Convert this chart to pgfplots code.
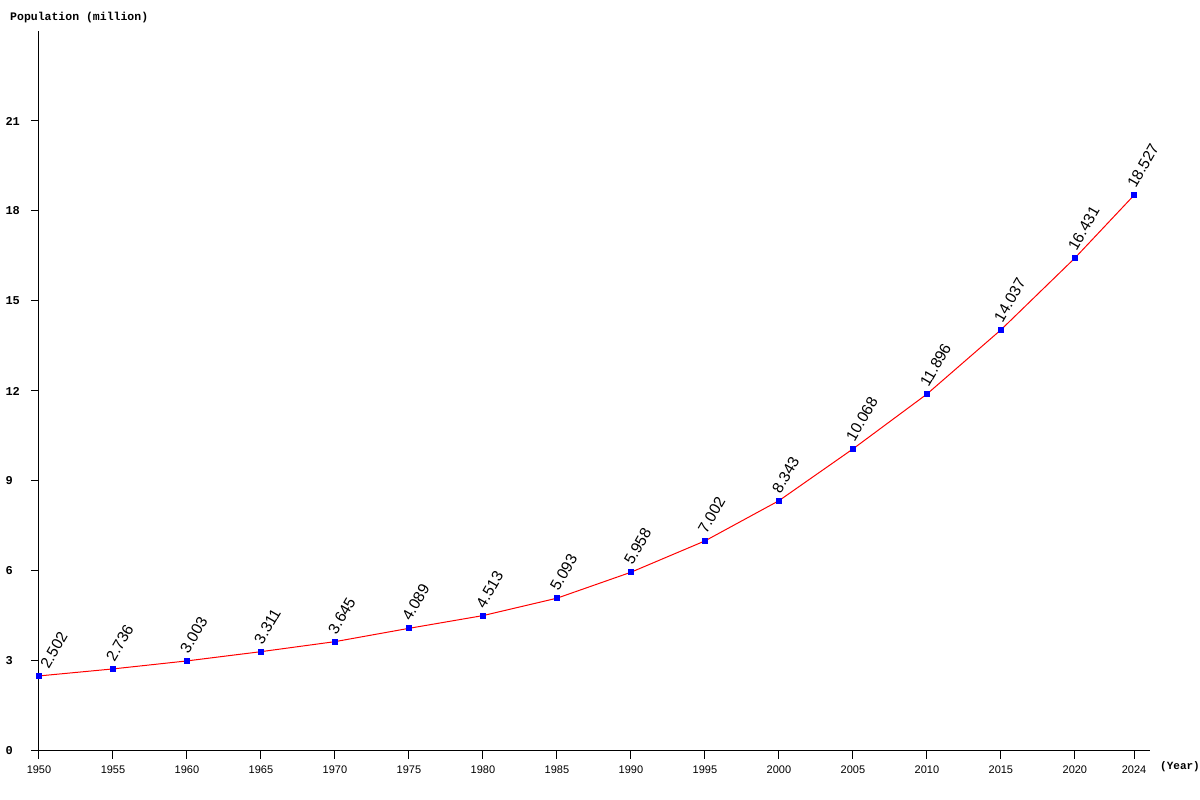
\documentclass[border=0pt]{standalone}
\usepackage{fontspec}
\setmainfont{Liberation Sans}
\setmonofont{Liberation Mono}
\usepackage{pgfplots}
\pgfplotsset{compat=1.18}
\definecolor{pred}{RGB}{255,0,0}
\definecolor{pblue}{RGB}{0,0,255}
\begin{document}
\begin{tikzpicture}[x=1pt,y=1pt]
\path[use as bounding box] (0,0) rectangle (1200,800);
\begin{axis}[
  at={(39pt,49pt)}, anchor=south west,
  scale only axis, width=1111pt, height=720pt,
  clip=false,
  xmin=1950, xmax=2025.08, ymin=0, ymax=24,
  axis lines=left,
  axis line style={-, line width=1pt, black},
  xtick={1950,1955,1960,1965,1970,1975,1980,1985,1990,1995,2000,2005,2010,2015,2020,2024},
  ytick={0,3,6,9,12,15,18,21},
  tick align=outside,
  major tick length=8pt,
  tick style={line width=1pt, black},
  /pgf/number format/1000 sep={},
  /pgf/number format/assume math mode=true,
  x tick label style={font=\fontsize{11}{12}\selectfont, yshift=-3pt},
  y tick label style={font=\ttfamily\bfseries\fontsize{12}{13}\selectfont, anchor=west, xshift=-29pt},
  nodes near coords style={xshift=-3pt, yshift=9pt, rotate=60, anchor=west, inner sep=0pt,
    font=\fontsize{15.5}{18}\selectfont, text=black},
]
% population line with point markers
\addplot [pred, line width=1pt, mark=square*, mark size=2.5pt,
  mark options={pblue, draw=pblue, fill=pblue}]
table {
x y
1950 2.502
1955 2.736
1960 3.003
1965 3.311
1970 3.645
1975 4.089
1980 4.513
1985 5.093
1990 5.958
1995 7.002
2000 8.343
2005 10.068
2010 11.896
2015 14.037
2020 16.431
2024 18.527
};
% value labels
\addplot [draw=none, point meta=explicit symbolic, nodes near coords={\pgfplotspointmeta}]
table [meta=label] {
x y label
1955 2.736 2.736
1960 3.003 3.003
1965 3.311 3.311
1970 3.645 3.645
1975 4.089 4.089
1980 4.513 4.513
1985 5.093 5.093
1990 5.958 5.958
1995 7.002 7.002
2000 8.343 8.343
2005 10.068 10.068
2010 11.896 11.896
2015 14.037 14.037
2020 16.431 16.431
2024 18.527 18.527
};
% first label sits clear of the y axis
\addplot [draw=none, point meta=explicit symbolic, nodes near coords={\pgfplotspointmeta},
  nodes near coords style={xshift=4pt, yshift=-7pt}]
table [meta=label] {
x y label
1950 2.502 2.502
};
\end{axis}
\node[anchor=west, inner sep=0pt, font=\ttfamily\bfseries\fontsize{11.5}{13}\selectfont] at (10,782) {Population (million)};
\node[anchor=west, inner sep=0pt, font=\ttfamily\bfseries\fontsize{11}{13}\selectfont] at (1160,33) {(Year)};
\end{tikzpicture}
\end{document}
